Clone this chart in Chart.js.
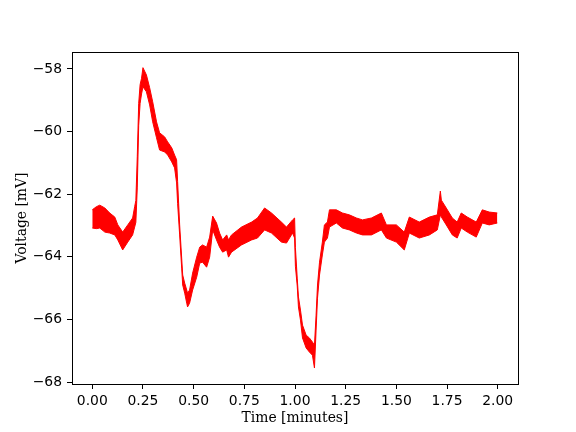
<!DOCTYPE html>
<html>
<head>
<meta charset="utf-8">
<script src="https://cdn.jsdelivr.net/npm/chart.js@4/dist/chart.umd.min.js"></script>
<style>
html,body{margin:0;padding:0;background:#fff;}
canvas{display:block;}
</style>
</head>
<body>
<canvas id="c" width="576" height="432"></canvas>
<script>
// Time in minutes
const times = [0.000,0.020,0.037,0.062,0.086,0.111,0.126,0.150,0.175,0.199,0.209,0.215,0.222,0.229,0.236,0.243,0.250,0.267,0.283,0.298,0.317,0.332,0.357,0.372,0.392,0.406,0.416,0.421,0.431,0.441,0.446,0.456,0.466,0.470,0.480,0.495,0.515,0.530,0.544,0.564,0.579,0.594,0.613,0.628,0.643,0.663,0.672,0.687,0.736,0.786,0.815,0.850,0.884,0.933,0.958,0.988,0.998,1.002,1.011,1.017,1.027,1.037,1.055,1.071,1.086,1.096,1.104,1.111,1.121,1.135,1.145,1.160,1.170,1.204,1.234,1.268,1.303,1.333,1.377,1.426,1.451,1.500,1.539,1.564,1.613,1.663,1.702,1.717,1.722,1.746,1.776,1.800,1.820,1.850,1.894,1.924,1.958,1.998];
// Upper edge of the noisy voltage trace [mV]
const voltageUpper = [-62.50,-62.40,-62.35,-62.44,-62.60,-62.73,-62.98,-63.21,-62.98,-62.76,-62.40,-62.20,-60.80,-59.10,-58.50,-58.30,-57.96,-58.19,-58.60,-59.05,-59.69,-60.04,-60.17,-60.33,-60.52,-60.75,-60.90,-61.60,-62.98,-64.04,-64.58,-64.84,-65.06,-65.16,-65.06,-64.52,-64.01,-63.69,-63.62,-63.69,-63.37,-62.70,-62.92,-63.24,-63.46,-63.30,-63.46,-63.30,-63.05,-62.89,-62.76,-62.44,-62.60,-62.89,-63.05,-62.82,-62.76,-63.70,-64.68,-65.28,-65.70,-66.18,-66.50,-66.59,-66.72,-66.82,-65.86,-64.90,-64.17,-63.53,-62.98,-62.89,-62.50,-62.50,-62.60,-62.66,-62.76,-62.82,-62.76,-62.60,-62.98,-62.98,-63.21,-62.73,-62.89,-62.73,-62.66,-61.90,-62.19,-62.44,-62.76,-62.89,-62.60,-62.73,-62.89,-62.50,-62.57,-62.60];
// Lower edge of the noisy voltage trace [mV]
const voltageLower = [-63.08,-63.10,-63.08,-63.21,-63.24,-63.30,-63.46,-63.78,-63.53,-63.30,-63.05,-62.90,-61.80,-59.80,-59.10,-58.80,-58.57,-58.73,-59.15,-59.69,-60.20,-60.59,-60.65,-60.75,-60.97,-61.16,-61.64,-62.30,-63.30,-64.36,-64.90,-65.16,-65.48,-65.60,-65.48,-65.06,-64.65,-64.20,-64.17,-64.33,-64.01,-63.14,-63.46,-63.69,-63.85,-63.78,-64.01,-63.85,-63.62,-63.46,-63.40,-63.14,-63.24,-63.53,-63.56,-63.24,-63.40,-64.30,-64.93,-65.60,-66.02,-66.59,-66.91,-67.04,-67.14,-67.55,-66.34,-65.32,-64.58,-63.94,-63.53,-63.40,-63.05,-62.92,-63.08,-63.14,-63.24,-63.30,-63.30,-63.14,-63.40,-63.53,-63.78,-63.24,-63.40,-63.30,-63.14,-62.66,-62.73,-62.98,-63.30,-63.40,-63.08,-63.21,-63.37,-62.92,-62.98,-62.92];

const xTicks = [0, 0.25, 0.5, 0.75, 1.0, 1.25, 1.5, 1.75, 2.0];
const xTickLabels = ["0.00","0.25","0.50","0.75","1.00","1.25","1.50","1.75","2.00"];
const yTicks = [-68, -66, -64, -62, -60, -58];
const yTickLabels = ["\u221268","\u221266","\u221264","\u221262","\u221260","\u221258"];

const lowerPts = times.map((t, i) => ({x: t, y: voltageLower[i]}));
const upperPts = times.map((t, i) => ({x: t, y: voltageUpper[i]}));

const frame = {
  id: 'frame',
  beforeDraw(chart) {
    const c = chart.ctx;
    c.save();
    c.fillStyle = '#fff';
    c.fillRect(0, 0, chart.width, chart.height);
    c.restore();
  },
  afterDraw(chart) {
    const a = chart.chartArea, c = chart.ctx;
    c.save();
    c.strokeStyle = '#000';
    c.lineWidth = 1;
    c.strokeRect(Math.round(a.left) + 0.5, Math.round(a.top) + 0.5, Math.round(a.right - a.left), Math.round(a.bottom - a.top));
    c.restore();
  }
};

const tickFont = {family: 'DejaVu Sans', size: 13.9};
const titleFont = {family: 'DejaVu Serif', size: 13.9};

new Chart(document.getElementById('c'), {
  type: 'line',
  data: {
    datasets: [
      {data: lowerPts, borderColor: '#ff0000', borderWidth: 1, pointRadius: 0, fill: false, tension: 0},
      {data: upperPts, borderColor: '#ff0000', borderWidth: 1, pointRadius: 0, fill: '-1', backgroundColor: '#ff0000', tension: 0}
    ]
  },
  options: {
    responsive: false,
    animation: false,
    events: [],
    layout: {padding: {left: 0, top: 52, right: 58, bottom: 0}},
    plugins: {legend: {display: false}, tooltip: {enabled: false}},
    scales: {
      x: {
        type: 'linear',
        min: -0.1, max: 2.1,
        afterFit(s) { s.height = 48; },
        afterBuildTicks(s) { s.ticks = xTicks.map(v => ({value: v})); },
        grid: {drawOnChartArea: false, tickLength: 5, tickColor: '#000', tickWidth: 1},
        border: {display: true, color: '#000', width: 1},
        ticks: {font: tickFont, color: '#000', padding: 4, maxRotation: 0, autoSkip: false,
          callback: (v) => { const i = xTicks.indexOf(v); return i >= 0 ? xTickLabels[i] : ''; }},
        title: {display: true, text: 'Time [minutes]', font: titleFont, color: '#000', padding: {top: 0, bottom: 5}}
      },
      y: {
        type: 'linear',
        min: -68.06, max: -57.46,
        afterFit(s) { s.width = 72; },
        afterBuildTicks(s) { s.ticks = yTicks.map(v => ({value: v})); },
        grid: {drawOnChartArea: false, tickLength: 5, tickColor: '#000', tickWidth: 1},
        border: {display: true, color: '#000', width: 1},
        ticks: {font: tickFont, color: '#000', padding: 5, autoSkip: false,
          callback: (v) => { const i = yTicks.indexOf(v); return i >= 0 ? yTickLabels[i] : ''; }},
        title: {display: true, text: 'Voltage [mV]', font: titleFont, color: '#000', padding: {top: 14, bottom: 0}}
      }
    }
  },
  plugins: [frame]
});
</script>
</body>
</html>
